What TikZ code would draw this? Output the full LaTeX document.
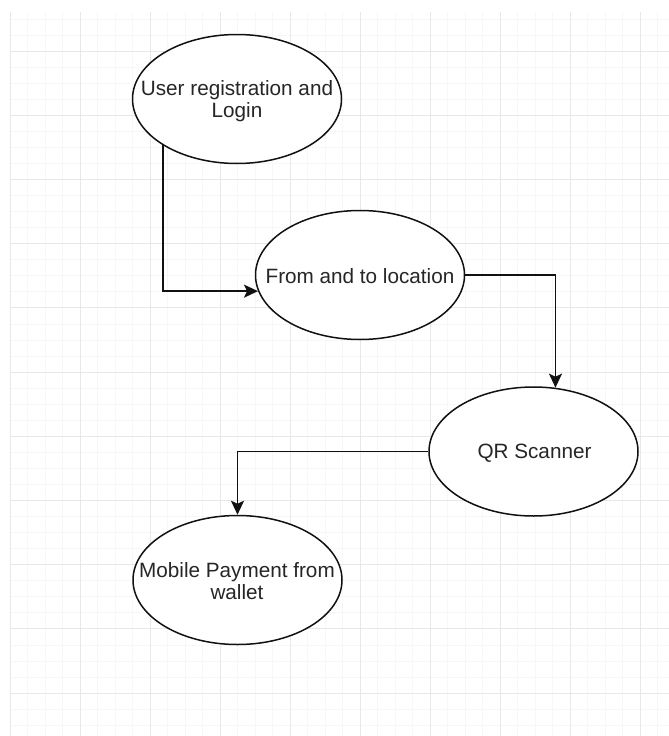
\documentclass[tikz,border=0pt]{standalone}
\usepackage{fontspec}
\setmainfont{Liberation Sans}
\usetikzlibrary{shapes.geometric,arrows.meta}
\definecolor{majorgrid}{HTML}{E8E8E8}
\definecolor{minorgrid}{HTML}{F7F7F7}
\definecolor{inkc}{HTML}{111111}
\definecolor{textc}{HTML}{262626}
\tikzset{
  oval/.style={ellipse, draw=inkc, line width=1.5pt, fill=white,
    minimum width=209pt, minimum height=129pt, inner sep=0pt},
  lbl/.style={align=center, text=textc, inner sep=0pt,
    font=\fontsize{20.7pt}{22pt}\selectfont},
  conn/.style={draw=inkc, line width=1.8pt,
    -{Stealth[length=14pt,width=13pt,inset=3pt]}},
}
\begin{document}
\begin{tikzpicture}[x=1pt,y=-1pt]
\useasboundingbox (0,0) rectangle (669,736);
\fill[white] (0,0) rectangle (669,736);
% grid
\begin{scope}
\clip (10,12) rectangle (669,736);
\foreach \i in {0,...,38} {
  \draw[minorgrid, line width=0.7pt] ({10+17.5*\i},12) -- ({10+17.5*\i},736);
}
\foreach \j in {-3,...,43} {
  \draw[minorgrid, line width=0.7pt] (10,{51+16.05*\j}) -- (669,{51+16.05*\j});
}
\foreach \i in {0,...,9} {
  \draw[majorgrid, line width=1pt] ({10+70*\i},12) -- ({10+70*\i},736);
}
\foreach \j in {-1,...,10} {
  \draw[majorgrid, line width=1pt] (10,{51+64.2*\j}) -- (669,{51+64.2*\j});
}
\end{scope}
% nodes
\node[oval] (e1) at (237,99) {};
\node[oval] (e2) at (360,275) {};
\node[oval] (e3) at (533.5,451.5) {};
\node[oval] (e4) at (237.5,580) {};
\node[lbl] (t1) at (237,101) {User registration and\\Login};
\node[lbl] (t2) at (360,276) {From and to location};
\node[lbl] (t3) at (534.5,453) {QR Scanner};
\node[lbl] (t4) at (237,581) {Mobile Payment from\\wallet};
% connectors
\draw[conn] (e1.212) |- (e2.189.5);
\draw[conn] (e2.east) -| (e3.71.2);
\draw[conn] (e3.west) -| (e4.north);
\end{tikzpicture}
\end{document}
